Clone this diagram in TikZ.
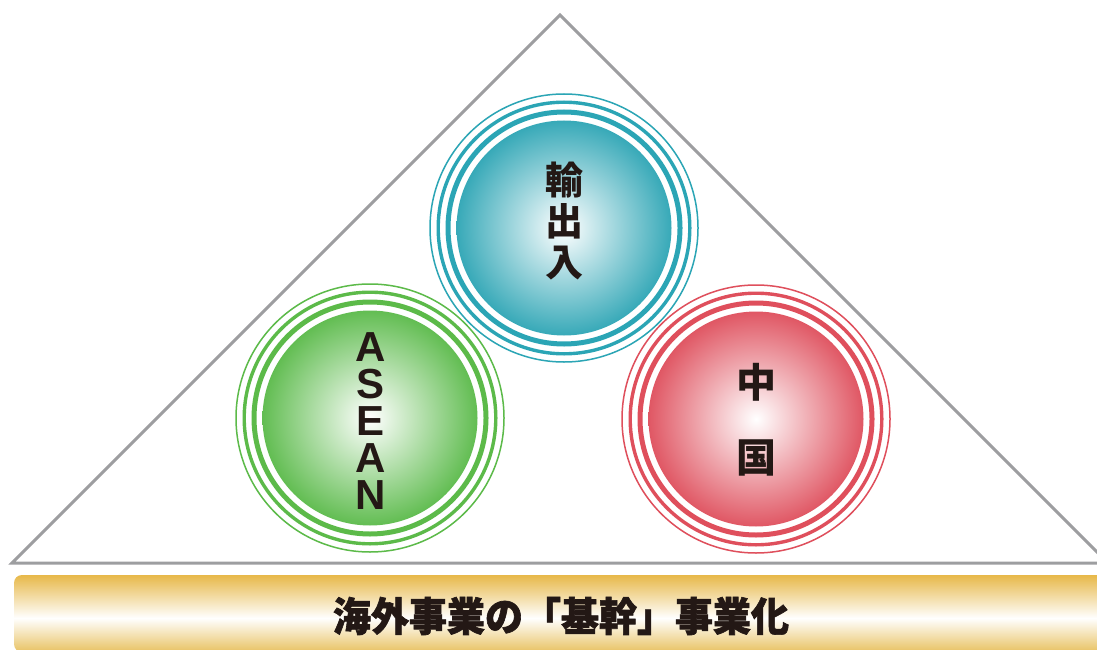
\documentclass[tikz,border=0pt]{standalone}
\usepackage{fontspec}
\setmainfont{Liberation Sans}
\newfontfamily\cjk{Noto Sans CJK JP}
\newfontfamily\cjkheavy[RawFeature={embolden=1.6}]{Noto Sans CJK JP}
\definecolor{tri}{HTML}{9D9EA0}
\definecolor{bluering}{HTML}{2BA5B5}
\definecolor{bluefill}{HTML}{37A9B8}
\definecolor{greenring}{HTML}{5CBA49}
\definecolor{greenfill}{HTML}{62BD52}
\definecolor{redring}{HTML}{DF4F5C}
\definecolor{redfill}{HTML}{E05764}
\definecolor{goldtop}{HTML}{E7B849}
\definecolor{goldbot}{HTML}{E8C262}
\definecolor{txt}{HTML}{231815}
\pgfdeclareradialshading{blueball}{\pgfpoint{0bp}{0bp}}{color(0bp)=(white); color(25bp)=(bluefill); color(50bp)=(bluefill)}
\pgfdeclareradialshading{greenball}{\pgfpoint{0bp}{0bp}}{color(0bp)=(white); color(25bp)=(greenfill); color(50bp)=(greenfill)}
\pgfdeclareradialshading{redball}{\pgfpoint{0bp}{0bp}}{color(0bp)=(white); color(25bp)=(redfill); color(50bp)=(redfill)}
\pgfdeclareverticalshading{goldbar}{100bp}{color(0bp)=(goldbot); color(25bp)=(goldbot); color(47bp)=(white); color(75bp)=(goldtop); color(100bp)=(goldtop)}
\tikzset{
  ball/.style={circle, minimum size=215pt, inner sep=0pt, shade, shading=#1},
  thinring/.style={draw=#1, line width=1.5pt},
  midring/.style={draw=#1, line width=3.4pt},
  thickring/.style={draw=#1, line width=5pt},
  cjklabel/.style={align=center, inner sep=0pt, text=txt, font=\cjk\bfseries\fontsize{38}{41}\selectfont},
}
\begin{document}
\begin{tikzpicture}[x=1pt,y=-1pt]
\useasboundingbox (0,0) rectangle (1097,650);
\fill[white] (0,0) rectangle (1097,650);
\clip (0,0) rectangle (1097,650);
% triangle
\coordinate (apex) at (560,15);
\coordinate (bl) at (12,563);
\coordinate (br) at (1108,563);
\draw[tri, line width=3pt, line join=miter] (apex) -- (bl) -- (br) -- cycle;
% circles
\foreach \nm/\cx/\cy/\rc/\sh in {blue/564/228/bluering/blueball, green/370/418/greenring/greenball, red/756/419/redring/redball}{
  \node[ball=\sh] (\nm) at (\cx,\cy) {};
  \draw[thickring=\rc] (\nm.center) circle (116pt);
  \draw[midring=\rc] (\nm.center) circle (125.8pt);
  \draw[thinring=\rc] (\nm.center) circle (134pt);
}
\node[cjklabel] (bluet) at (564,221) {輸\\出\\入};
\node[align=center, inner sep=0pt, text=txt, font=\bfseries\fontsize{42}{37}\selectfont] (greent) at (371,421) {A\\S\\E\\A\\N};
\node[align=center, inner sep=0pt, text=txt, font=\cjk\bfseries\fontsize{40}{75}\selectfont] (redt) at (756,420) {中\\国};
% bottom bar
\shade[shading=goldbar, rounded corners=8pt] (14,575) rectangle (1115,652);
\node[inner sep=0pt, text=txt, font=\cjkheavy\bfseries\fontsize{40}{40}\selectfont] (bar) at (561,616) {\scalebox{0.95}[1]{海外事業の「基幹」事業化}};
\end{tikzpicture}
\end{document}
